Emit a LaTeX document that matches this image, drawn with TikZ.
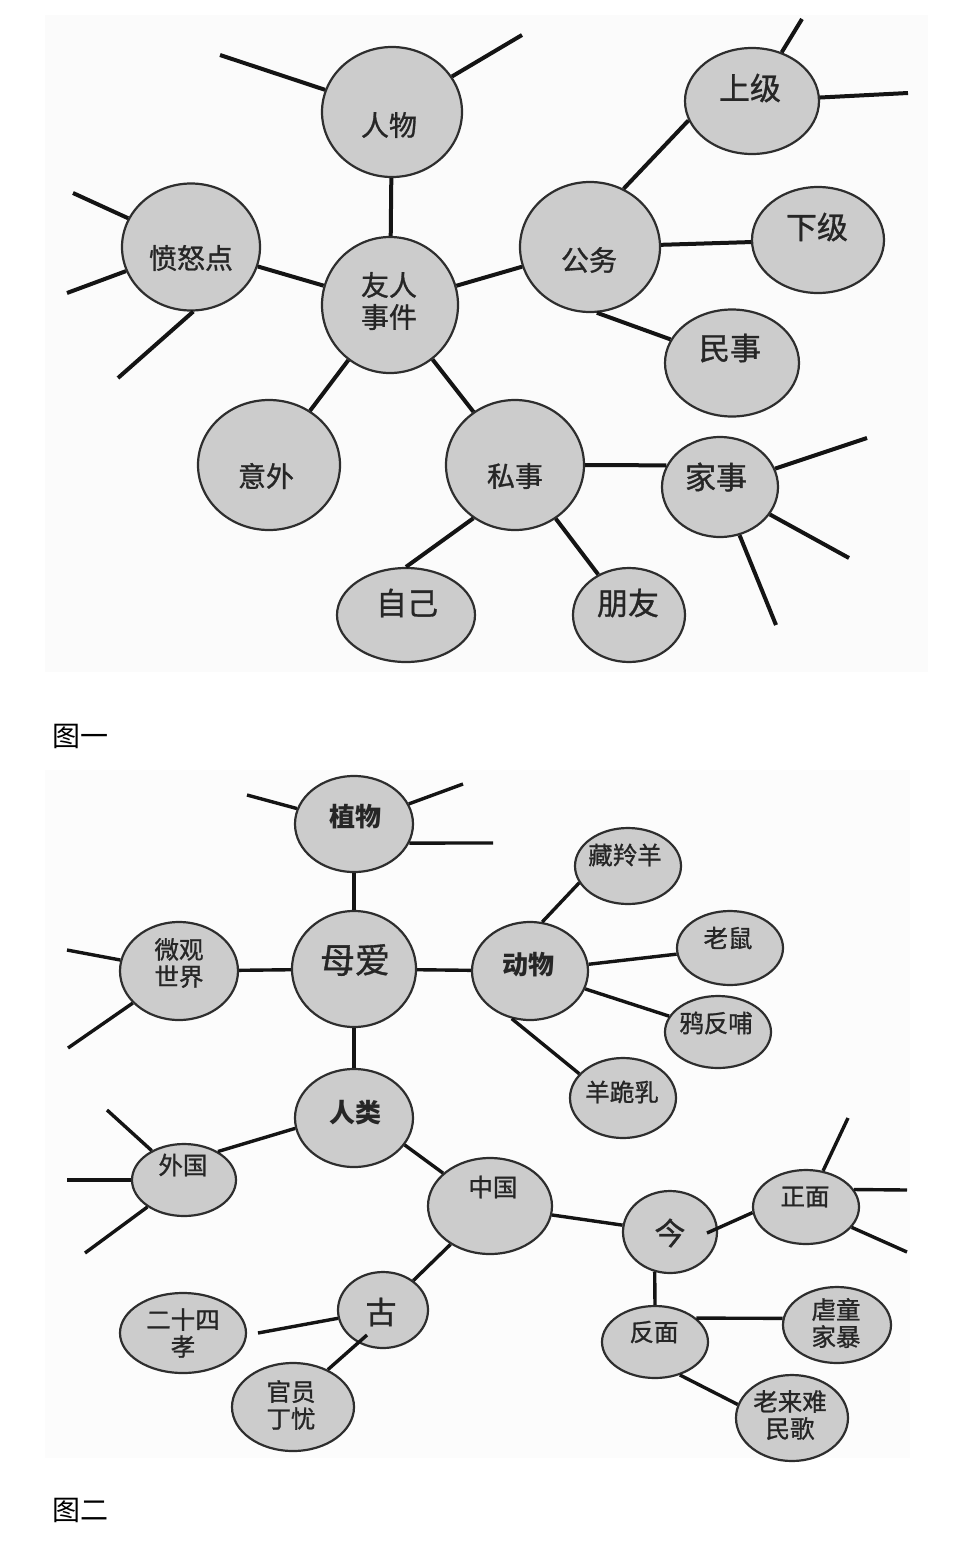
\documentclass[tikz,border=0pt]{standalone}
\usepackage{fontspec}
\setmainfont{Noto Sans CJK SC}
\newfontfamily\medcjk[FakeBold=1.0]{Noto Sans CJK SC}
\usetikzlibrary{shapes.geometric}
\tikzset{
  bub/.style={ellipse, draw=black!82, fill=black!20, line width=2.2pt, inner sep=0pt},
  con/.style={line width=4pt, draw=black!92},
  conb/.style={line width=3.4pt, draw=black!92},
  txt/.style={text=black!85, inner sep=0pt, align=center},
  fta/.style={font=\medcjk\fontsize{28}{32}\selectfont},
  ftb/.style={font=\medcjk\fontsize{31}{34}\selectfont},
  ftc/.style={font=\medcjk\fontsize{24.5}{27}\selectfont},
  ftd/.style={font=\bfseries\fontsize{26}{28}\selectfont},
  fte/.style={font=\medcjk\fontsize{35}{38}\selectfont},
  captxt/.style={font=\fontsize{28}{30}\selectfont, text=black, inner sep=0pt},
}
\begin{document}
\begin{tikzpicture}[x=1pt,y=-1pt]
\useasboundingbox (0,0) rectangle (966,1542);
\fill[black!1.5] (45,15) rectangle (928,672);
\fill[black!1] (45,770) rectangle (910,1458);

% ---------------- figure 1 ----------------
\node[bub, minimum width=140, minimum height=130] (rw) at (392,112) {};
\node[bub, minimum width=138, minimum height=127] (fn) at (191,247) {};
\node[bub, minimum width=136, minimum height=136] (yr) at (390,305) {};
\node[bub, minimum width=140, minimum height=130] (gw) at (590,247) {};
\node[bub, minimum width=134, minimum height=106] (sj) at (752,101) {};
\node[bub, minimum width=132, minimum height=106] (xj) at (818,240) {};
\node[bub, minimum width=134, minimum height=107] (ms) at (732,363) {};
\node[bub, minimum width=142, minimum height=130] (yw) at (269,465) {};
\node[bub, minimum width=138, minimum height=130] (sw) at (515,465) {};
\node[bub, minimum width=116, minimum height=100] (jw) at (720,487) {};
\node[bub, minimum width=138, minimum height=94] (zj) at (406,615) {};
\node[bub, minimum width=112, minimum height=94] (py) at (629,615) {};

\node[txt, fta] (rwt) at (389,125) {人物};
\node[txt, fta] (fnt) at (191,258) {愤怒点};
\node[txt, fta] (yrt) at (389,301) {友人\\事件};
\node[txt, fta] (gwt) at (589,260) {公务};
\node[txt, ftb] (sjt) at (750,88) {上级};
\node[txt, ftb] (xjt) at (817,227) {下级};
\node[txt, ftb] (mst) at (730,348) {民事};
\node[txt, fta] (ywt) at (266,476) {意外};
\node[txt, fta] (swt) at (515,476) {私事};
\node[txt, ftb] (jwt) at (716,477) {家事};
\node[txt, ftb] (zjt) at (407,603) {自己};
\node[txt, ftb] (pyt) at (628,603) {朋友};

\coordinate (rwa) at (220,55);
\coordinate (rwb) at (522,35);
\coordinate (fna) at (73,193);
\coordinate (fnb) at (67,293);
\coordinate (fnc) at (118,378);
\coordinate (sja) at (802,19);
\coordinate (sjb) at (908,93);
\coordinate (jwa) at (867,438);
\coordinate (jwb) at (849,558);
\coordinate (jwc) at (776,625);

\draw[con] (yr) -- (rw);
\draw[con] (yr) -- (fn);
\draw[con] (yr) -- (gw);
\draw[con] (yr) -- (yw);
\draw[con] (yr) -- (sw);
\draw[con] (gw.60) -- (sj.197);
\draw[con] (gw) -- (xj);
\draw[con] (gw.-84) -- (ms.159);
\draw[con] (sw.east) -- (jw.158);
\draw[con] (sw.-128) -- (zj.north);
\draw[con] (sw) -- (py);
\draw[con] (rw) -- (rwa);
\draw[con] (rw) -- (rwb);
\draw[con] (fn) -- (fna);
\draw[con] (fn) -- (fnb);
\draw[con] (fn.-88) -- (fnc);
\draw[con] (sj) -- (sja);
\draw[con] (sj) -- (sjb);
\draw[con] (jw) -- (jwa);
\draw[con] (jw) -- (jwb);
\draw[con] (jw) -- (jwc);

\node[captxt] (cap1) at (80,736) {图一};

% ---------------- figure 2 ----------------
\node[bub, minimum width=118, minimum height=96] (wz) at (354,824) {};
\node[bub, minimum width=124, minimum height=116] (ma) at (354,969) {};
\node[bub, minimum width=118, minimum height=98] (wg) at (179,971) {};
\node[bub, minimum width=116, minimum height=98] (dw) at (530,971) {};
\node[bub, minimum width=106, minimum height=76] (zly) at (628,866) {};
\node[bub, minimum width=106, minimum height=74] (ls) at (730,948) {};
\node[bub, minimum width=106, minimum height=72] (yf) at (718,1032) {};
\node[bub, minimum width=106, minimum height=80] (ygr) at (623,1098) {};
\node[bub, minimum width=118, minimum height=98] (rl) at (354,1118) {};
\node[bub, minimum width=104, minimum height=72] (wgu) at (184,1180) {};
\node[bub, minimum width=124, minimum height=96] (zg) at (490,1206) {};
\node[bub, minimum width=90, minimum height=76] (gu) at (383,1310) {};
\node[bub, minimum width=126, minimum height=80] (esx) at (183,1333) {};
\node[bub, minimum width=122, minimum height=88] (gy) at (293,1407) {};
\node[bub, minimum width=94, minimum height=82] (jin) at (670,1232) {};
\node[bub, minimum width=106, minimum height=74] (zm) at (806,1207) {};
\node[bub, minimum width=106, minimum height=72] (fm) at (655,1342) {};
\node[bub, minimum width=108, minimum height=76] (nt) at (837,1325) {};
\node[bub, minimum width=112, minimum height=86] (ll) at (792,1418) {};

\node[txt, ftd] (wzt) at (355,817) {植物};
\node[txt, fte] (mat) at (355,960) {母爱};
\node[txt, ftc] (wgt) at (179,963) {微观\\世界};
\node[txt, ftd] (dwt) at (528,965) {动物};
\node[txt, ftc] (zlyt) at (625,855) {藏羚羊};
\node[txt, ftc] (lst) at (728,938) {老鼠};
\node[txt, ftc] (yft) at (716,1023) {鸦反哺};
\node[txt, ftc] (ygrt) at (622,1092) {羊跪乳};
\node[txt, ftd] (rlt) at (355,1113) {人类};
\node[txt, ftc] (wgut) at (183,1165) {外国};
\node[txt, ftc] (zgt) at (493,1187) {中国};
\node[txt, ftb] (gut) at (381,1312) {古};
\node[txt, ftc] (esxt) at (183,1333) {二十四\\孝};
\node[txt, ftc] (gyt) at (291,1405) {官员\\丁忧};
\node[txt, ftb] (jint) at (670,1233) {今};
\node[txt, ftc] (zmt) at (805,1197) {正面};
\node[txt, ftc] (fmt) at (654,1332) {反面};
\node[txt, ftc] (ntt) at (836,1323) {虐童\\家暴};
\node[txt, ftc] (llt) at (790,1415) {老来难\\民歌};

\coordinate (wza) at (247,795);
\coordinate (wzb) at (463,784);
\coordinate (wzc) at (493,843);
\coordinate (wga) at (67,950);
\coordinate (wgb) at (68,1048);
\coordinate (wgua) at (107,1110);
\coordinate (wgub) at (67,1180);
\coordinate (wguc) at (85,1253);
\coordinate (zma) at (848,1118);
\coordinate (zmb) at (907,1190);
\coordinate (zmc) at (907,1252);
\coordinate (esxe) at (258,1333);
\coordinate (gui) at (367,1335);
\coordinate (jini) at (707,1233);

\draw[conb] (wz) -- (ma);
\draw[conb] (wg) -- (ma);
\draw[conb] (ma) -- (dw);
\draw[conb] (ma) -- (rl);
\draw[conb] (dw.76) -- (zly.-161);
\draw[conb] (dw) -- (ls);
\draw[conb] (dw) -- (yf);
\draw[conb] (dw.-111) -- (ygr.151);
\draw[conb] (rl.-170) -- (wgu.40);
\draw[conb] (rl.-28) -- (zg.145);
\draw[conb] (zg) -- (gu);
\draw[conb] (gu) -- (esxe);
\draw[conb] (gui) -- (gy.47);
\draw[conb] (zg) -- (jin);
\draw[conb] (jini) -- (zm.186);
\draw[conb] (jin.-111) -- (fm.north);
\draw[conb] (fm.30) -- (nt.173);
\draw[conb] (fm.-53) -- (ll.166);
\draw[conb] (wz) -- (wza);
\draw[conb] (wz) -- (wzb);
\draw[conb] (wz.-19) -- (wzc);
\draw[conb] (wg) -- (wga);
\draw[conb] (wg) -- (wgb);
\draw[conb] (wgu) -- (wgua);
\draw[conb] (wgu) -- (wgub);
\draw[conb] (wgu) -- (wguc);
\draw[conb] (zm) -- (zma);
\draw[conb] (zm.20) -- (zmb);
\draw[conb] (zm) -- (zmc);

\node[captxt] (cap2) at (80,1510) {图二};
\end{tikzpicture}
\end{document}
